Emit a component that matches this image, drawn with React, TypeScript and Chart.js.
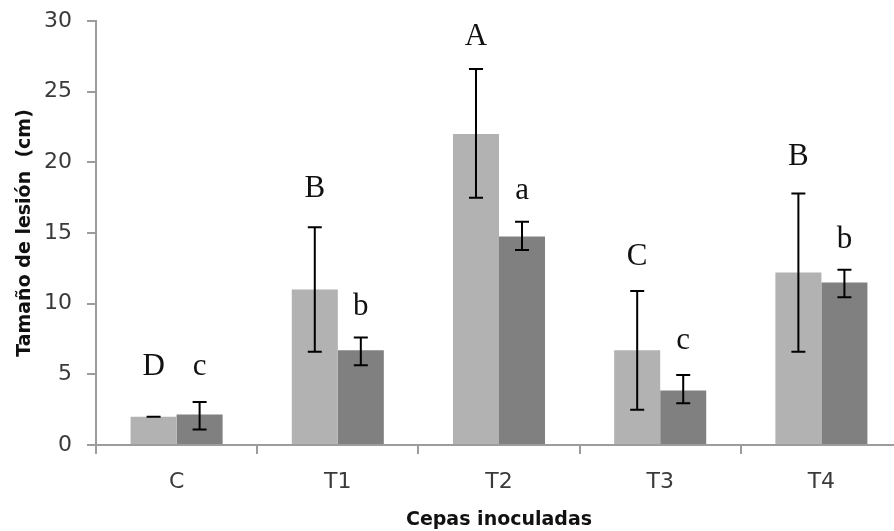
import React, { useEffect, useRef } from "react";
import { Chart, registerables } from "chart.js";

Chart.register(...registerables);

const categories = ["C", "T1", "T2", "T3", "T4"];
const lightValues = [2.0, 11.0, 22.0, 6.7, 12.2];
const darkValues = [2.15, 6.7, 14.75, 3.85, 11.5];
const lightErrLow = [2.0, 6.6, 17.5, 2.5, 6.6];
const lightErrHigh = [2.0, 15.4, 26.6, 10.9, 17.8];
const darkErrLow = [1.1, 5.65, 13.8, 2.95, 10.45];
const darkErrHigh = [3.05, 7.6, 15.8, 4.95, 12.4];
const lightLetters = ["D", "B", "A", "C", "B"];
const darkLetters = ["c", "b", "a", "c", "b"];
const lightLetterY = [5.5, 18.1, 28.85, 13.3, 20.4];
const darkLetterY = [5.5, 9.8, 18.0, 7.4, 14.55];
const yTicks = [0, 5, 10, 15, 20, 25, 30];

const errLows = [lightErrLow, darkErrLow];
const errHighs = [lightErrHigh, darkErrHigh];
const letters = [lightLetters, darkLetters];
const letterYs = [lightLetterY, darkLetterY];

const overlayPlugin = {
  id: "overlay",
  afterDatasetsDraw(chart: any) {
    const ctx = chart.ctx;
    const y = chart.scales.y;
    ctx.save();
    for (let d = 0; d < 2; d++) {
      const meta = chart.getDatasetMeta(d);
      meta.data.forEach((bar: any, i: number) => {
        const x = bar.x;
        const yl = y.getPixelForValue(errLows[d][i]);
        const yh = y.getPixelForValue(errHighs[d][i]);
        ctx.strokeStyle = "#000";
        ctx.lineWidth = 2;
        ctx.beginPath();
        ctx.moveTo(x, yl);
        ctx.lineTo(x, yh);
        ctx.moveTo(x - 7, yl);
        ctx.lineTo(x + 7, yl);
        ctx.moveTo(x - 7, yh);
        ctx.lineTo(x + 7, yh);
        ctx.stroke();
        ctx.fillStyle = "#111";
        ctx.font = "31px 'Liberation Serif'";
        ctx.textAlign = "center";
        ctx.textBaseline = "middle";
        ctx.fillText(letters[d][i], x, y.getPixelForValue(letterYs[d][i]));
      });
    }
    ctx.restore();
  },
};

export default function App() {
  const ref = useRef<HTMLCanvasElement>(null);
  useEffect(() => {
    if (!ref.current) return;
    const axisColor = "#9c9c9c";
    const chart = new Chart(ref.current, {
      type: "bar",
      data: {
        labels: categories,
        datasets: [
          { data: lightValues, backgroundColor: "#b2b2b2", borderWidth: 0, categoryPercentage: 0.571, barPercentage: 1 },
          { data: darkValues, backgroundColor: "#808080", borderWidth: 0, categoryPercentage: 0.571, barPercentage: 1 },
        ],
      },
      options: {
        animation: false,
        responsive: false,
        devicePixelRatio: 1,
        layout: { padding: { top: 21, right: 2, left: 0, bottom: 0 } },
        plugins: { legend: { display: false }, tooltip: { enabled: false } },
        scales: {
          x: {
            afterFit: (s: any) => { s.height = 86; s.paddingLeft = 0; s.paddingRight = 0; },
            grid: { display: true, drawOnChartArea: false, drawTicks: true, tickLength: 9, color: axisColor, lineWidth: 2, offset: true },
            border: { display: true, color: axisColor, width: 2 },
            ticks: { color: "#3a3a3a", font: { family: "DejaVu Sans", size: 22 }, padding: 15, autoSkip: false, maxRotation: 0 },
            title: { display: true, text: "Cepas inoculadas", color: "#111", font: { family: "DejaVu Sans", size: 19, weight: "bold" }, padding: { top: 0, bottom: 0 } },
          },
          y: {
            min: 0,
            max: 30,
            afterFit: (s: any) => { s.width = 96; s.paddingTop = 0; s.paddingBottom = 0; },
            afterBuildTicks: (s: any) => { s.ticks = yTicks.map((v) => ({ value: v })); },
            grid: { display: true, drawOnChartArea: false, drawTicks: true, tickLength: 9, color: axisColor, lineWidth: 2 },
            border: { display: true, color: axisColor, width: 2 },
            ticks: { color: "#3a3a3a", font: { family: "DejaVu Sans", size: 22 }, padding: 15 },
            title: { display: true, text: "Tamaño de lesión  (cm)", color: "#111", font: { family: "DejaVu Sans", size: 19, weight: "bold" }, padding: { top: 14, bottom: 0 } },
          },
        },
      },
      plugins: [overlayPlugin],
    });
    return () => chart.destroy();
  }, []);
  return (
    <div style={{ position: "fixed", left: 0, top: 0, width: 894, height: 531, overflow: "hidden", background: "#fff" }}>
      <canvas ref={ref} width={904} height={531} style={{ width: 904, height: 531, display: "block" }} />
    </div>
  );
}
